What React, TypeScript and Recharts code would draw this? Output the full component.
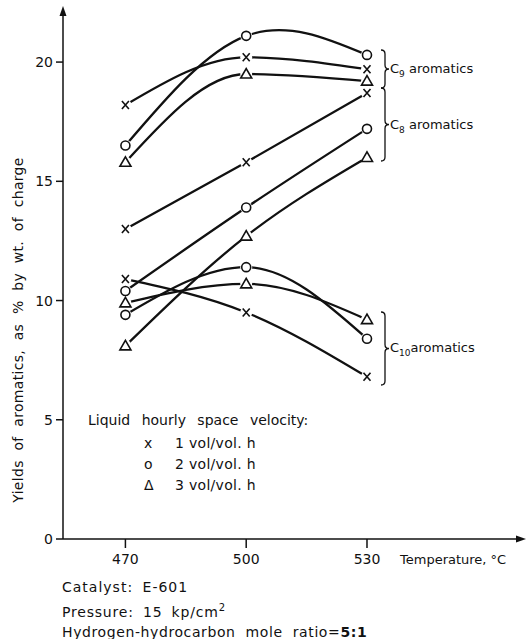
import React from 'react';
import { LineChart, Line, XAxis, YAxis } from 'recharts';

const TEMPERATURES = [470, 500, 530];
const Y_TICKS = [0, 5, 10, 15, 20];

// yields, % by wt. of charge, per LHSV
const C9_LHSV_1 = [18.2, 20.2, 19.7];
const C9_LHSV_2 = [16.5, 21.1, 20.3];
const C9_LHSV_3 = [15.8, 19.5, 19.2];
const C8_LHSV_1 = [13.0, 15.8, 18.7];
const C8_LHSV_2 = [10.4, 13.9, 17.2];
const C8_LHSV_3 = [8.1, 12.7, 16.0];
const C10_LHSV_1 = [10.9, 9.5, 6.8];
const C10_LHSV_2 = [9.4, 11.4, 8.4];
const C10_LHSV_3 = [9.9, 10.7, 9.2];

const SERIES = [
  { key: 'c9_1', values: C9_LHSV_1, marker: 'cross', curve: 'monotoneX' },
  { key: 'c9_2', values: C9_LHSV_2, marker: 'circle', curve: 'natural' },
  { key: 'c9_3', values: C9_LHSV_3, marker: 'triangle', curve: 'monotoneX' },
  { key: 'c8_1', values: C8_LHSV_1, marker: 'cross', curve: 'natural' },
  { key: 'c8_2', values: C8_LHSV_2, marker: 'circle', curve: 'natural' },
  { key: 'c8_3', values: C8_LHSV_3, marker: 'triangle', curve: 'natural' },
  { key: 'c10_1', values: C10_LHSV_1, marker: 'cross', curve: 'monotoneX' },
  { key: 'c10_2', values: C10_LHSV_2, marker: 'circle', curve: 'monotoneX' },
  { key: 'c10_3', values: C10_LHSV_3, marker: 'triangle', curve: 'monotoneX' },
];

const data = TEMPERATURES.map((t, i) => {
  const row: any = { t };
  SERIES.forEach((s) => (row[s.key] = s.values[i]));
  return row;
});

const FONT = '"DejaVu Sans", sans-serif';
const INK = '#111';

const Marker = ({ cx, cy, shape }: any) => {
  if (cx == null || cy == null) return <g />;
  return (
    <g>
      <circle cx={cx} cy={cy} r={6} fill="#fff" />
      {shape === 'circle' && <circle cx={cx} cy={cy} r={4.5} fill="#fff" stroke={INK} strokeWidth={1.6} />}
      {shape === 'triangle' && (
        <polygon
          points={`${cx - 5.5},${cy + 4} ${cx + 5.5},${cy + 4} ${cx},${cy - 5.5}`}
          fill="#fff"
          stroke={INK}
          strokeWidth={1.6}
        />
      )}
      {shape === 'cross' && (
        <path
          d={`M${cx - 3.5},${cy - 4} L${cx + 3.5},${cy + 4} M${cx + 3.5},${cy - 4} L${cx - 3.5},${cy + 4}`}
          stroke={INK}
          strokeWidth={1.6}
        />
      )}
    </g>
  );
};

const brace = (x: number, top: number, bot: number) => {
  const mid = (top + bot) / 2;
  return `M${x},${top} Q${x + 4},${top} ${x + 4},${top + 4} L${x + 4},${mid - 4} Q${x + 4},${mid} ${x + 8},${mid} Q${x + 4},${mid} ${x + 4},${mid + 4} L${x + 4},${bot - 4} Q${x + 4},${bot} ${x},${bot}`;
};

const txt: React.CSSProperties = {
  position: 'absolute',
  fontFamily: FONT,
  fontSize: 14,
  color: INK,
  whiteSpace: 'nowrap',
  lineHeight: 1,
};

const legendRow = (top: number, mark: string, label: string) => (
  <>
    <div style={{ ...txt, left: 144, top }}>{mark}</div>
    <div style={{ ...txt, left: 175, top, letterSpacing: 0.3 }}>{label}</div>
  </>
);

export default function App() {
  return (
    <div style={{ position: 'absolute', left: 0, top: 0, width: 526, height: 639, background: '#fff' }}>
      <LineChart width={526} height={639} data={data} margin={{ top: 12, right: 6, bottom: 70, left: 0 }}>
        <XAxis
          dataKey="t"
          type="number"
          domain={[454.5, 568]}
          ticks={TEMPERATURES}
          height={30}
          tickSize={9}
          tickMargin={6}
          axisLine={{ stroke: INK, strokeWidth: 1.5 }}
          tickLine={{ stroke: INK, strokeWidth: 1.5 }}
          tick={{ fill: INK, fontSize: 14, fontFamily: FONT }}
        />
        <YAxis
          type="number"
          domain={[0, 22.1]}
          ticks={Y_TICKS}
          width={63}
          tickSize={7}
          tickMargin={3}
          axisLine={{ stroke: INK, strokeWidth: 1.5 }}
          tickLine={{ stroke: INK, strokeWidth: 1.5 }}
          tick={{ fill: INK, fontSize: 14, fontFamily: FONT }}
        />
        {SERIES.map((s) => (
          <Line
            key={s.key}
            dataKey={s.key}
            type={s.curve as any}
            stroke={INK}
            strokeWidth={2.3}
            isAnimationActive={false}
            dot={(p: any) => <Marker key={`${s.key}-${p.index}`} cx={p.cx} cy={p.cy} shape={s.marker} />}
            activeDot={false}
          />
        ))}
      </LineChart>

      <svg width={526} height={639} style={{ position: 'absolute', left: 0, top: 0, pointerEvents: 'none' }}>
        <polygon points="63,6 59.5,16 66.5,16" fill={INK} />
        <polygon points="526,539 516,535.5 516,542.5" fill={INK} />
        <g fill="none" stroke={INK} strokeWidth={1.3}>
          <path d={brace(381, 50, 88)} />
          <path d={brace(381, 88, 161)} />
          <path d={brace(381, 312, 385)} />
        </g>
      </svg>

      <div style={{ ...txt, fontSize: 13, left: 390, top: 62 }}>C<sub style={{ fontSize: 9 }}>9</sub> aromatics</div>
      <div style={{ ...txt, fontSize: 13, left: 390, top: 118 }}>C<sub style={{ fontSize: 9 }}>8</sub> aromatics</div>
      <div style={{ ...txt, fontSize: 13, left: 390, top: 341 }}>C<sub style={{ fontSize: 9 }}>10</sub>aromatics</div>

      <div style={{ ...txt, left: 88, top: 413, wordSpacing: 7 }}>Liquid hourly space velocity:</div>
      {legendRow(436, 'x', '1 vol/vol. h')}
      {legendRow(457, 'o', '2 vol/vol. h')}
      {legendRow(478, 'Δ', '3 vol/vol. h')}

      <div style={{ ...txt, fontSize: 13, left: 400, top: 553 }}>Temperature, °C</div>

      <div
        style={{
          ...txt,
          left: 18,
          top: 330,
          transform: 'translate(-50%, -50%) rotate(-90deg)',
          wordSpacing: 5,
          letterSpacing: 0.3,
        }}
      >
        Yields of aromatics, as % by wt. of charge
      </div>

      <div style={{ ...txt, left: 62, top: 580, letterSpacing: 1, wordSpacing: 4 }}>Catalyst: E-601</div>
      <div style={{ ...txt, left: 62, top: 603, letterSpacing: 0.8, wordSpacing: 4 }}>
        Pressure: 15 kp/cm<sup style={{ fontSize: 10 }}>2</sup>
      </div>
      <div style={{ ...txt, left: 62, top: 625, letterSpacing: 0.6, wordSpacing: 5 }}>
        Hydrogen-hydrocarbon mole ratio=<b>5:1</b>
      </div>
    </div>
  );
}
